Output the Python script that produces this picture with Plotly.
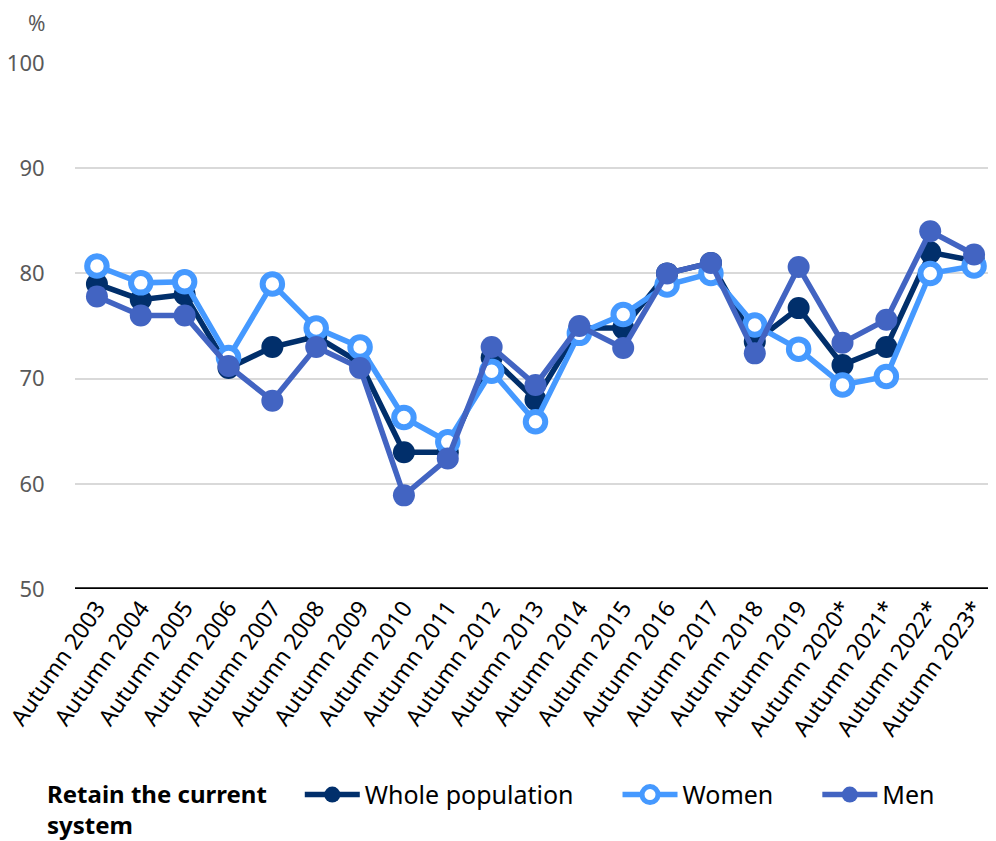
import plotly.graph_objects as go

categories = ["Autumn 2003", "Autumn 2004", "Autumn 2005", "Autumn 2006", "Autumn 2007",
              "Autumn 2008", "Autumn 2009", "Autumn 2010", "Autumn 2011", "Autumn 2012",
              "Autumn 2013", "Autumn 2014", "Autumn 2015", "Autumn 2016", "Autumn 2017",
              "Autumn 2018", "Autumn 2019", "Autumn 2020*", "Autumn 2021*", "Autumn 2022*",
              "Autumn 2023*"]
whole = [79, 77.5, 78, 71, 73, 74, 71.5, 63, 63, 72, 68, 74.8, 74.8, 80, 81, 73.5, 76.7, 71.3, 73, 82, 81.2]
women = [80.7, 79.1, 79.2, 72, 79, 74.8, 73, 66.3, 64, 70.7, 65.9, 74.3, 76.1, 78.9, 80, 75.1, 72.8, 69.4, 70.2, 80, 80.7]
men = [77.8, 76, 76, 71.2, 67.9, 73, 71, 58.9, 62.4, 73, 69.4, 75, 72.9, 80, 81, 72.4, 80.6, 73.4, 75.6, 84, 81.8]

series_names = ["Whole population", "Women", "Men"]
legend_title = "Retain the current<br>system"
colors = ["#012F6B", "#4599FF", "#4264C2"]

FONT = "Noto Sans"
PAD = "&nbsp;" * 6

fig = go.Figure()
fig.add_trace(go.Scatter(
    x=categories, y=whole, name=series_names[0] + PAD, mode="lines+markers",
    line=dict(color=colors[0], width=5.5),
    marker=dict(size=22, color=colors[0], line=dict(width=0)),
))
fig.add_trace(go.Scatter(
    x=categories, y=women, name=series_names[1] + PAD, mode="lines+markers",
    line=dict(color=colors[1], width=5.5),
    marker=dict(size=19.5, color="white", line=dict(color=colors[1], width=6)),
))
fig.add_trace(go.Scatter(
    x=categories, y=men, name=series_names[2], mode="lines+markers",
    line=dict(color=colors[2], width=5.5),
    marker=dict(size=22, color=colors[2], line=dict(width=0)),
))

title_lines = legend_title.split("<br>")
title_text = "<b>" + title_lines[0] + "&nbsp;" * 4 + "<br>" + title_lines[1] + "</b>"

fig.update_layout(
    width=988, height=833,
    margin=dict(l=67, r=0, t=55, b=252),
    plot_bgcolor="white", paper_bgcolor="white",
    font=dict(family=FONT, color="#000000"),
    showlegend=True,
    legend=dict(
        orientation="h", xref="container", yref="container",
        x=0.0375, xanchor="left", y=0.083, yanchor="top",
        title=dict(text=title_text, side="left",
                   font=dict(size=24, family=FONT, color="#000000")),
        font=dict(size=25, family=FONT, color="#000000"),
        itemwidth=55, tracegroupgap=0,
    ),
    xaxis=dict(
        type="category", tickangle=-55, showgrid=False,
        tickfont=dict(size=23, family=FONT, color="#000000"),
        showline=False, ticks="", range=[-0.5, 20.5], automargin=False,
    ),
    yaxis=dict(
        range=[50, 100], tickvals=[50, 60, 70, 80, 90, 100],
        showgrid=True, gridcolor="#D9D9D9", gridwidth=2,
        tickfont=dict(size=22, family=FONT, color="#595959"),
        zeroline=False, showline=False, ticks="outside", ticklen=25, tickcolor="white",
        automargin=False,
    ),
    shapes=[dict(type="line", xref="paper", yref="y", x0=0, x1=1, y0=50, y1=50,
                 line=dict(color="black", width=3.5))],
    annotations=[dict(text="%", xref="paper", yref="paper", x=-0.030, y=1.076,
                      xanchor="right", yanchor="middle", showarrow=False,
                      font=dict(size=21, family=FONT, color="#595959"))],
)

fig.write_html("out.html")
